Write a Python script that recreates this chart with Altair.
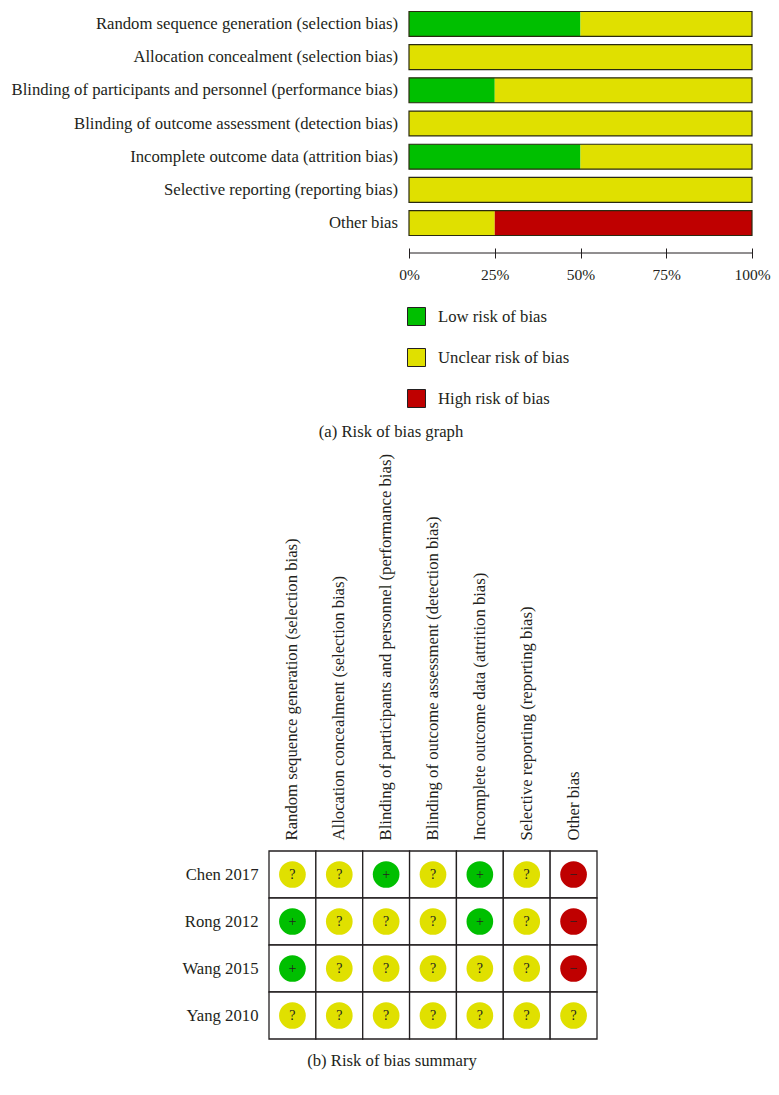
import altair as alt
import pandas as pd

domains = [
    "Random sequence generation (selection bias)",
    "Allocation concealment (selection bias)",
    "Blinding of participants and personnel (performance bias)",
    "Blinding of outcome assessment (detection bias)",
    "Incomplete outcome data (attrition bias)",
    "Selective reporting (reporting bias)",
    "Other bias",
]
low_pct = [50, 0, 25, 0, 50, 0, 0]
unclear_pct = [50, 100, 75, 100, 50, 100, 25]
high_pct = [0, 0, 0, 0, 0, 0, 75]
risk_names = ["Low risk of bias", "Unclear risk of bias", "High risk of bias"]
risk_colors = ["#00BF00", "#E0E000", "#BF0000"]
x_ticks = [0, 25, 50, 75, 100]

studies = ["Chen 2017", "Rong 2012", "Wang 2015", "Yang 2010"]
judgements = [
    ["?", "?", "+", "?", "+", "?", "-"],
    ["+", "?", "?", "?", "+", "?", "-"],
    ["+", "?", "?", "?", "?", "?", "-"],
    ["?", "?", "?", "?", "?", "?", "?"],
]
symbol_map = {"+": "+", "?": "?", "-": "\u2212"}
judgement_order = ["+", "?", "-"]

FONT = "Liberation Serif"
INK = "#231f20"
FS = 16.7

# ---------- tables
rows = []
for d, l, u, h in zip(domains, low_pct, unclear_pct, high_pct):
    for rank, (name, v) in enumerate(zip(risk_names, [l, u, h])):
        rows.append({"domain": d, "risk": name, "pct": v, "rank": rank})
bars_df = pd.DataFrame(rows)
outline_df = pd.DataFrame({"domain": domains, "start": 0, "end": 100})
axis_line_df = pd.DataFrame({"a": [min(x_ticks)], "b": [max(x_ticks)]})

cells = []
for s, row in zip(studies, judgements):
    for d, j in zip(domains, row):
        cells.append({"study": s, "domain": d, "j": j, "glyph": symbol_map[j]})
cells_df = pd.DataFrame(cells)

# ---------- top panel
y_top = alt.Y(
    "domain:N",
    sort=domains,
    title=None,
    scale=alt.Scale(paddingInner=0.25, paddingOuter=0.075),
    axis=alt.Axis(
        domain=False, ticks=False, labelLimit=500, labelPadding=11.5,
        labelFontSize=FS, labelFont=FONT, labelColor=INK,
    ),
)
x_scale = alt.Scale(domain=[0, 100], nice=False)

bars = alt.Chart(bars_df).mark_bar(stroke=None).encode(
    x=alt.X(
        "pct:Q",
        stack="zero",
        scale=x_scale,
        title=None,
        axis=alt.Axis(
            values=x_ticks, labelExpr="datum.value + '%'", offset=10, tickSize=10,
            tickColor=INK, tickWidth=1, domain=False, grid=False, labelPadding=9,
            labelFontSize=15.5, labelFont=FONT, labelColor=INK, labelFlush=False,
        ),
    ),
    y=y_top,
    color=alt.Color(
        "risk:N",
        scale=alt.Scale(domain=risk_names, range=risk_colors),
        legend=alt.Legend(
            orient="none", legendX=397, legendY=298, title=None, padding=0,
            symbolType="square", symbolSize=324, symbolStrokeColor=INK,
            symbolStrokeWidth=1, symbolOpacity=1, rowPadding=18, labelOffset=12,
            labelFontSize=FS, labelFont=FONT, labelColor=INK, labelLimit=300,
        ),
    ),
    order=alt.Order("rank:Q"),
)
outline = alt.Chart(outline_df).mark_bar(
    fill=None, fillOpacity=0, stroke="#2a2a10", strokeWidth=1.2
).encode(
    x=alt.X("start:Q", scale=x_scale),
    x2="end:Q",
    y=y_top,
)
axis_line = alt.Chart(axis_line_df).mark_rule(color=INK, strokeWidth=1).encode(
    x=alt.X("a:Q", scale=x_scale),
    x2="b:Q",
    y=alt.value(244),
)
caption_a = alt.Chart(pd.DataFrame({"c": ["(a)  Risk of bias graph"]})).mark_text(
    font=FONT, fontSize=FS, color=INK, align="center", baseline="middle"
).encode(text="c:N", x=alt.value(-18), y=alt.value(423))

top = alt.layer(bars, outline, axis_line, caption_a).properties(width=343, height=229)

# ---------- bottom panel
x_b = alt.X(
    "domain:N",
    sort=domains,
    title=None,
    axis=alt.Axis(
        orient="top", labelAngle=-90, labelAlign="left", labelBaseline="middle",
        domain=False, ticks=False, labelPadding=11, labelLimit=500,
        labelFontSize=FS, labelFont=FONT, labelColor=INK,
    ),
)
y_b = alt.Y(
    "study:N",
    sort=studies,
    title=None,
    axis=alt.Axis(
        domain=False, ticks=False, labelPadding=11,
        labelFontSize=FS, labelFont=FONT, labelColor=INK,
    ),
)
grid = alt.Chart(cells_df).mark_rect(fill="white", stroke=INK, strokeWidth=1.3).encode(x=x_b, y=y_b)
dots = alt.Chart(cells_df).mark_point(filled=True, opacity=1, size=712, shape="circle").encode(
    x=x_b,
    y=y_b,
    color=alt.Color(
        "j:N",
        scale=alt.Scale(domain=judgement_order, range=risk_colors),
        legend=None,
    ),
)
glyphs = alt.Chart(cells_df).mark_text(
    font=FONT, fontSize=14, color=INK, align="center", baseline="middle"
).encode(x=x_b, y=y_b, text="glyph:N")
caption_b = alt.Chart(pd.DataFrame({"c": ["(b)  Risk of bias summary"]})).mark_text(
    font=FONT, fontSize=FS, color=INK, align="center", baseline="middle"
).encode(text="c:N", x=alt.value(123), y=alt.value(210))

bottom = alt.layer(grid, dots, glyphs, caption_b).properties(width=328, height=188).resolve_scale(color="independent")


def spacer(w):
    return alt.Chart(pd.DataFrame({"a": [0]})).mark_point(opacity=0, size=1).encode(
        x=alt.value(0), y=alt.value(0)
    ).properties(width=w, height=1)


chart = alt.vconcat(
    alt.hconcat(spacer(1), top, spacing=0),
    alt.hconcat(spacer(171), bottom, spacing=0),
    spacing=12,
).resolve_scale(color="independent").properties(
    padding={"left": 1, "top": 0, "right": 0, "bottom": 0},
    background="white",
).configure_view(stroke=None).configure_axis(grid=False)

chart.save("out.html", embed_options={"renderer": "svg", "actions": False})
